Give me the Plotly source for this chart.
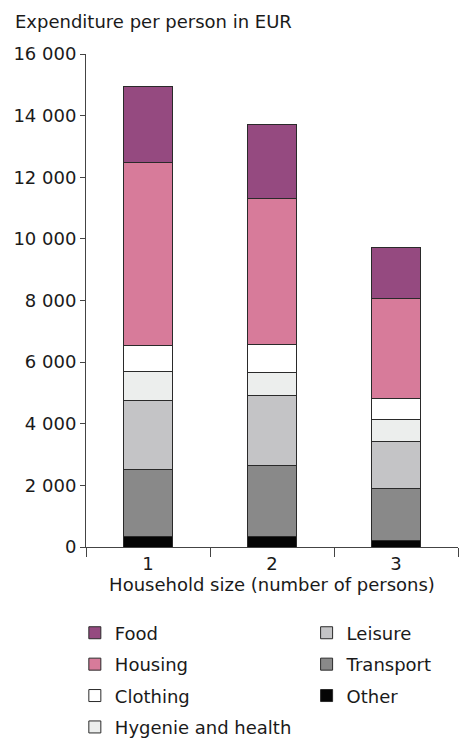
import plotly.graph_objects as go

categories = ["1", "2", "3"]
series_names = ["Other", "Transport", "Leisure", "Hygenie and health", "Clothing", "Housing", "Food"]
other = [350, 340, 200]
transport = [2150, 2300, 1710]
leisure = [2260, 2280, 1510]
hygiene = [940, 730, 710]
clothing = [840, 930, 680]
housing = [5940, 4720, 3240]
food = [2460, 2410, 1670]
series_values = [other, transport, leisure, hygiene, clothing, housing, food]
colors = ["#050505", "#898989", "#c4c4c6", "#eceeed", "#ffffff", "#d77b9a", "#954a80"]
legend_ids = ["legend2", "legend2", "legend2", "legend", "legend", "legend", "legend"]
legend_ranks = [3, 2, 1, 4, 3, 2, 1]

y_tickvals = [0, 2000, 4000, 6000, 8000, 10000, 12000, 14000, 16000]
y_ticktext = ["0", "2 000", "4 000", "6 000", "8 000", "10 000", "12 000", "14 000", "16 000"]

FONT = "DejaVu Sans"
FS = 18
TXT = "#1a1a1a"
AX = "#444444"

fig = go.Figure()
for name, vals, col, lg, rk in zip(series_names, series_values, colors, legend_ids, legend_ranks):
    fig.add_trace(go.Bar(
        x=categories, y=vals, name=name,
        marker=dict(color=col, line=dict(color="#2a2a2a", width=1)),
        legend=lg, legendgroup=name, legendrank=rk,
    ))

legend_common = dict(
    traceorder="grouped", tracegroupgap=5,
    font=dict(family=FONT, size=FS, color=TXT),
    bgcolor="rgba(0,0,0,0)", xanchor="left", yanchor="top",
    orientation="v",
)

fig.update_layout(
    width=459, height=739,
    margin=dict(l=86, r=1, t=54, b=192, autoexpand=False),
    barmode="stack", bargap=0.6,
    plot_bgcolor="white", paper_bgcolor="white",
    font=dict(family=FONT, size=FS, color=TXT),
    showlegend=True,
    legend=dict(x=-0.03, y=-0.137, **legend_common),
    legend2=dict(x=0.593, y=-0.137, **legend_common),
    xaxis=dict(
        type="category", tickson="boundaries",
        showline=True, linecolor=AX, linewidth=1,
        ticks="outside", ticklen=9, tickcolor=AX,
        showgrid=False, zeroline=False,
        tickfont=dict(family=FONT, size=FS, color=TXT),
        title=dict(text="Household size (number of persons)", standoff=2,
                   font=dict(family=FONT, size=FS, color=TXT)),
    ),
    yaxis=dict(
        range=[0, 16000], tickvals=y_tickvals, ticktext=y_ticktext,
        showline=True, linecolor=AX, linewidth=1,
        ticks="outside", ticklen=5, tickcolor=AX,
        showgrid=False, zeroline=False,
        tickfont=dict(family=FONT, size=FS, color=TXT),
    ),
    annotations=[dict(
        text="Expenditure per person in EUR", xref="paper", yref="paper",
        x=-0.196, y=1.065, xanchor="left", yanchor="middle", showarrow=False,
        font=dict(family=FONT, size=FS, color=TXT),
    )],
)

fig.write_html("out.html")
